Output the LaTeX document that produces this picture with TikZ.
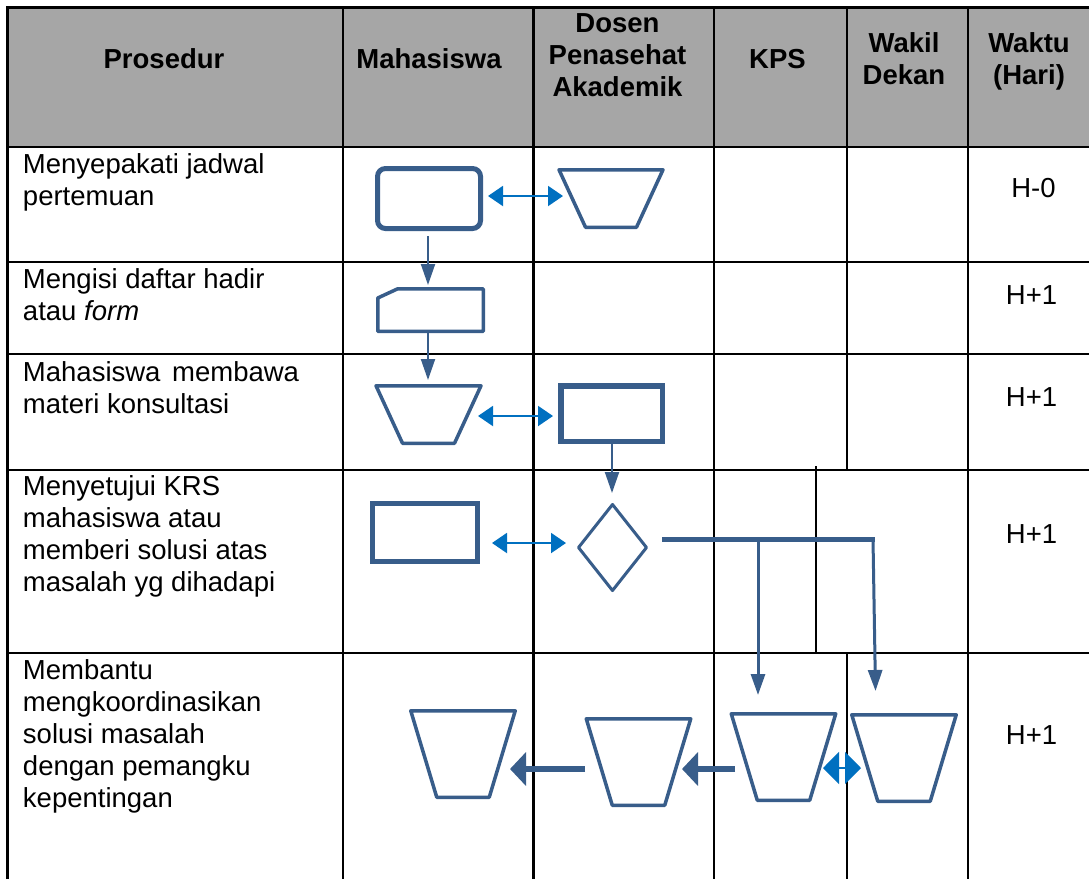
\documentclass[tikz,border=0pt]{standalone}
\usepackage{fontspec}
\setmainfont{Liberation Sans}
\usetikzlibrary{arrows.meta,calc}
\definecolor{sb}{HTML}{385D8A}
\definecolor{bl}{HTML}{0070C0}
\definecolor{hd}{HTML}{A6A6A6}
\newcommand{\lcell}[1]{\begin{tabular}[t]{@{}l@{}}#1\end{tabular}}
\newcommand{\ccell}[1]{\begin{tabular}[t]{@{}c@{}}#1\end{tabular}}
\newcommand{\trapo}[2]{\draw[shp] (#1.north west) -- (#1.north east) -- ([xshift=-#2]#1.south east) -- ([xshift=#2]#1.south west) -- cycle;}
\begin{document}
\begin{tikzpicture}[x=1pt,y=-1pt,
  every node/.style={font=\fontsize{27.5}{32}\selectfont, inner sep=0pt, outer sep=0pt},
  grid/.style={line width=2.4pt, draw=black},
  hdr/.style={anchor=base, font=\fontsize{27.5}{32}\selectfont\bfseries},
  txt/.style={anchor=base west},
  wkt/.style={anchor=base},
  shp/.style={draw=sb, line width=3.5pt, line join=round},
  frameA/.style={minimum width=104pt, minimum height=57.5pt},
  frameB/.style={minimum width=104.5pt, minimum height=86.5pt},
  boxA/.style={draw=sb, line width=5.5pt},
  flow/.style={draw=sb, line width=2pt, -{Triangle[length=21pt,width=14pt]}},
  flowb/.style={draw=sb, line width=3pt, -{Triangle[length=21pt,width=14pt]}},
  big/.style={draw=sb, line width=6pt, -{Triangle[length=16pt,width=33pt]}},
  dbl/.style={draw=bl, line width=2pt, {Triangle[length=15pt,width=20pt]}-{Triangle[length=15pt,width=20pt]}},
  dblb/.style={draw=bl, line width=2pt, {Triangle[length=16pt,width=32pt]}-{Triangle[length=16pt,width=32pt]}}
]
\useasboundingbox (0,0) rectangle (1089,879);
\fill[white] (0,0) rectangle (1089,879);
% header fill
\fill[hd] (7.3,7.3) rectangle (1089,147);
% grid
\draw[grid] (7.3,879) -- (7.3,7.3) -- (1089,7.3);
\foreach \yy in {147,262,354,470,653}{\draw[grid] (7.3,\yy) -- (1089,\yy);}
\foreach \xx in {343,533.5,714,968}{\draw[grid] (\xx,7.3) -- (\xx,879);}
\draw[grid] (847,7.3) -- (847,470);
\draw[grid] (847,653) -- (847,879);
\draw[grid] (816,466) -- (816,653);

% header texts
\node[hdr] (hp) at (164,68) {Prosedur};
\node[hdr] (hm) at (429,68) {Mahasiswa};
\node[hdr] (hd) at (617.5,32) {\ccell{Dosen\\Penasehat\\Akademik}};
\node[hdr] (hk) at (777.5,68) {KPS};
\node[hdr] (hw) at (904,52) {\ccell{Wakil\\Dekan}};
\node[hdr] (ht) at (1029,52) {\ccell{Waktu\\(Hari)}};

% procedure texts
\node[txt] (p1) at (23,173) {\lcell{Menyepakati jadwal\\pertemuan}};
\node[txt] (p2) at (23,288) {\lcell{Mengisi daftar hadir\\atau \textit{form}}};
\node[txt] (p3) at (23,381) {\lcell{Mahasiswa\hspace{4pt} membawa\\materi konsultasi}};
\node[txt] (p4) at (23,495) {\lcell{Menyetujui KRS\\mahasiswa atau\\memberi solusi atas\\masalah yg dihadapi}};
\node[txt] (p5) at (23,679) {\lcell{Membantu\\mengkoordinasikan\\solusi masalah\\dengan pemangku\\kepentingan}};

% waktu texts
\node[wkt] (w1) at (1033.5,197) {H-0};
\node[wkt] (w2) at (1031.5,304) {H+1};
\node[wkt] (w3) at (1031.5,406) {H+1};
\node[wkt] (w4) at (1031.5,543) {H+1};
\node[wkt] (w5) at (1031.5,744) {H+1};

% row 1
\node[draw=sb, line width=5pt, rounded corners=8pt, minimum width=103pt, minimum height=60pt] (r1) at (429,198.5) {};
\node[frameA] (d1) at (611,198.5) {};
\trapo{d1}{26.5pt}
\draw[dbl] ([xshift=59pt,yshift=2.5pt]r1.center) -- ([xshift=-48pt,yshift=2.5pt]d1.center);

% row 2: manual input
\node[minimum width=105.5pt, minimum height=42.5pt] (m2) at (430.5,310) {};
\draw[shp] ([yshift=-9.25pt]m2.north west) -- ([xshift=20pt]m2.north west) -- (m2.north east) -- (m2.south east) -- (m2.south west) -- cycle;
\draw[flow] ([xshift=-1pt,yshift=-37.5pt]r1.center) -- ([xshift=-2.5pt,yshift=25pt]m2.center);

% row 3
\node[frameA, minimum width=105pt] (t3) at (428.5,414.5) {};
\trapo{t3}{26.5pt}
\node[boxA, minimum width=101.5pt, minimum height=55.5pt] (d3) at (611.5,413.5) {};
\draw[flow] ([xshift=-2.5pt,yshift=-23pt]m2.center) -- ([xshift=-0.5pt,yshift=34.5pt]t3.center);
\draw[dbl] ([xshift=49.5pt,yshift=-1.5pt]t3.center) -- ([xshift=-58.5pt,yshift=-2.5pt]d3.center);

% row 4
\node[boxA, line width=5pt, minimum width=105pt, minimum height=58pt] (m4) at (425,532.5) {};
\node[minimum width=68pt, minimum height=86pt] (dm) at (612.5,547.5) {};
\draw[shp, line width=3pt] (dm.north) -- (dm.east) -- (dm.south) -- (dm.west) -- cycle;
\draw[flow] ([xshift=0.5pt,yshift=-30.5pt]d3.center) -- ([xshift=-0.5pt,yshift=54.5pt]dm.center);
\draw[dbl] ([xshift=67pt,yshift=-10.5pt]m4.center) -- ([xshift=-46.5pt,yshift=4.5pt]dm.center);
\coordinate (b1) at (662,539);
\coordinate (b2) at (875,539);
\coordinate (j1) at (758,539);
\coordinate (j2) at (873,539);
\draw[sb, line width=5pt] (b1) -- (b2);

% row 5
\node[frameB] (T1) at (463,754) {};
\node[frameB] (T2) at (638.5,762) {};
\node[frameB] (T3) at (783.5,757) {};
\node[frameB] (T4) at (904,758) {};
\trapo{T1}{26pt}
\trapo{T2}{26pt}
\trapo{T3}{26pt}
\trapo{T4}{26pt}
\draw[flowb] (j1) -- ([xshift=-25.5pt,yshift=62pt]T3.center);
\draw[flowb] (j2) -- ([xshift=-28.5pt,yshift=67pt]T4.center);
\draw[big] ([xshift=-53.5pt,yshift=-7pt]T2.center) -- ([xshift=47pt,yshift=-15pt]T1.center);
\draw[big] ([xshift=-48.5pt,yshift=-12pt]T3.center) -- ([xshift=43.5pt,yshift=-7pt]T2.center);
\draw[dblb] ([xshift=39.5pt,yshift=-11pt]T3.center) -- ([xshift=-43pt,yshift=-10pt]T4.center);
\end{tikzpicture}
\end{document}
